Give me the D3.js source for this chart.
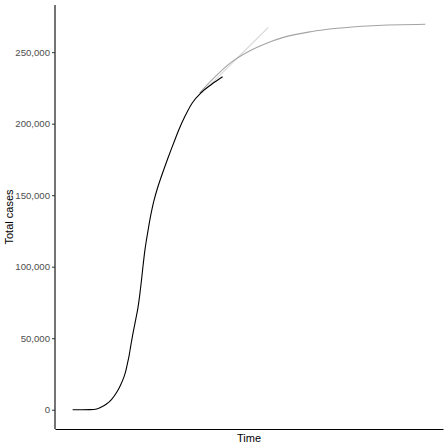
<!DOCTYPE html>
<html>
<head>
<meta charset="utf-8">
<script src="https://cdn.jsdelivr.net/npm/d3@7"></script>
<style>
  body { margin: 0; background: #fff; }
  text { font-family: "Liberation Sans", Arial, sans-serif; }
</style>
</head>
<body>
<svg id="chart" width="448" height="448"></svg>
<script>
// observed cumulative cases (day, total)
var obsDays = [0, 5, 10, 13, 16, 19, 22, 25, 27, 29, 30, 31, 32, 33, 34, 35, 36, 37, 38, 39, 40,
               41, 42, 43, 44, 45, 46, 48, 50, 52, 54, 56, 58, 60, 62, 65, 68, 73, 79, 85];
var obsCases = [0, 0, 100, 350, 1700, 3800, 7100, 12200, 16800, 22600, 26500, 31900, 37700, 45000,
                52000, 58300, 64500, 71000, 79800, 90200, 101500, 111800, 119800, 127200, 134100,
                140200, 145600, 154500, 162000, 169000, 175800, 182400, 188800, 195000, 200800,
                208400, 214800, 221800, 227700, 232800];

// fitted curve
var fitDays = [72, 80, 90, 100, 110, 120, 135, 150, 170, 200];
var fitCases = [221400, 231800, 243000, 250700, 256300, 260500, 264300, 266700, 268500, 269500];

// straight projection
var projDays = [75, 93, 111];
var projCases = [223500, 245500, 267400];

var yTicks = [0, 50000, 100000, 150000, 200000, 250000];

var svg = d3.select("#chart"),
    margin = {top: 5, right: 5, bottom: 19, left: 55},
    width = +svg.attr("width") - margin.left - margin.right,
    height = +svg.attr("height") - margin.top - margin.bottom,
    g = svg.append("g").attr("transform", "translate(" + margin.left + "," + margin.top + ")");

var allDays = obsDays.concat(fitDays, projDays),
    allCases = obsCases.concat(fitCases, projCases);

var xMin = d3.min(allDays), xMax = d3.max(allDays),
    yMin = d3.min(allCases), yMax = d3.max(allCases);
var xPad = (xMax - xMin) * 0.05, yPad = (yMax - yMin) * 0.05;

var x = d3.scaleLinear().domain([xMin - xPad, xMax + xPad]).range([0, width]),
    y = d3.scaleLinear().domain([yMin - yPad, yMax + yPad]).range([height, 0]);

var line = d3.line()
    .x(function(d) { return x(d[0]); })
    .y(function(d) { return y(d[1]); })
    .curve(d3.curveMonotoneX);

g.append("path")
    .datum(d3.zip(projDays, projCases))
    .attr("fill", "none")
    .attr("stroke", "#d6d6d6")
    .attr("stroke-width", 1.1)
    .attr("d", line);

g.append("path")
    .datum(d3.zip(fitDays, fitCases))
    .attr("fill", "none")
    .attr("stroke", "#a3a3a3")
    .attr("stroke-width", 1.1)
    .attr("d", line);

g.append("path")
    .datum(d3.zip(obsDays, obsCases))
    .attr("fill", "none")
    .attr("stroke", "#000")
    .attr("stroke-width", 1.1)
    .attr("d", line);

// y axis
var yAxis = g.append("g")
    .call(d3.axisLeft(y).tickValues(yTicks).tickFormat(d3.format(",")).tickSize(3).tickPadding(2));
yAxis.select(".domain").attr("stroke", "#000").attr("stroke-width", 1.1)
    .attr("d", "M0," + height + "V0");
yAxis.selectAll(".tick line").attr("stroke", "#333");
yAxis.selectAll(".tick text").attr("fill", "#4d4d4d").attr("font-size", "9.6px")
    .attr("font-family", "Liberation Sans, Arial, sans-serif");

// x axis (no ticks)
var xAxis = g.append("g")
    .attr("transform", "translate(0," + height + ")")
    .call(d3.axisBottom(x).tickValues([]).tickSizeOuter(0));
xAxis.select(".domain").attr("stroke", "#000").attr("stroke-width", 1.1);

// axis titles
svg.append("text")
    .attr("x", margin.left + width / 2)
    .attr("y", 442)
    .attr("text-anchor", "middle")
    .attr("font-size", "11px")
    .attr("fill", "#000")
    .text("Time");

svg.append("text")
    .attr("transform", "translate(13," + (margin.top + height / 2) + ") rotate(-90)")
    .attr("text-anchor", "middle")
    .attr("font-size", "11px")
    .attr("fill", "#000")
    .text("Total cases");
</script>
</body>
</html>
